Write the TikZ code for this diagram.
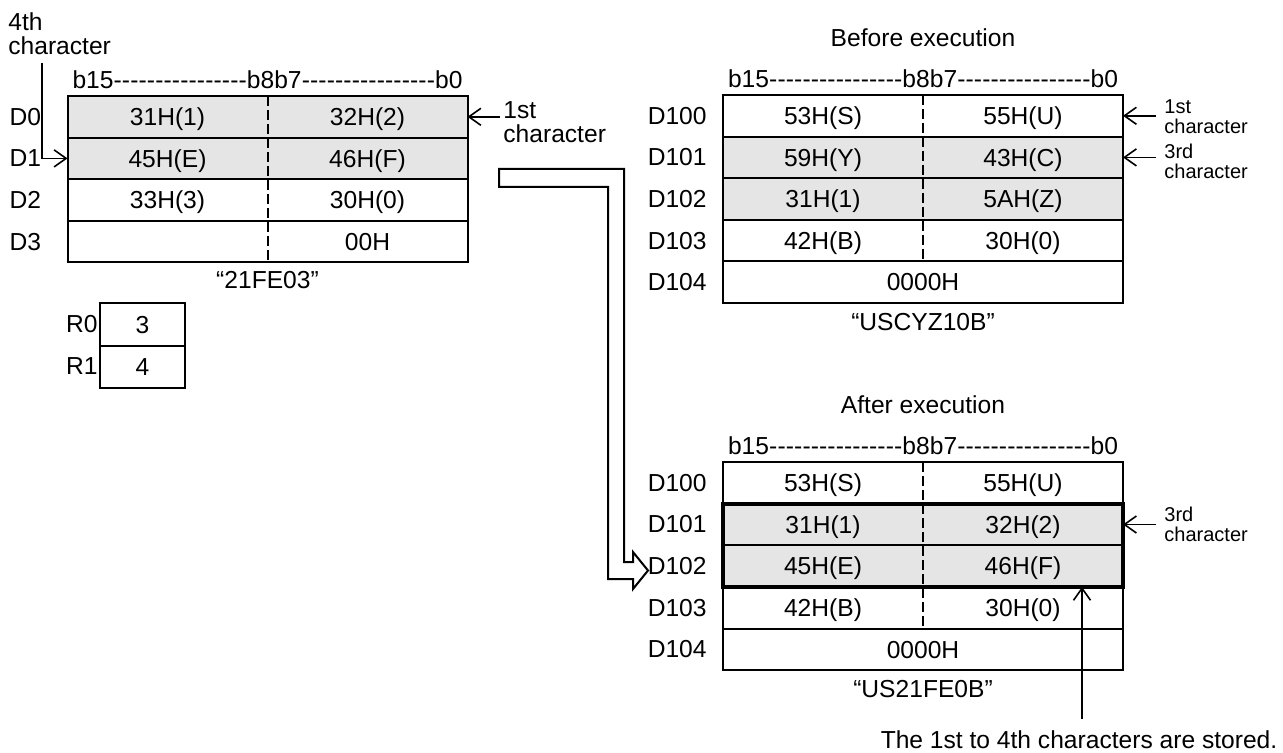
\documentclass[tikz,border=0pt]{standalone}
\usepackage{fontspec}
\setmainfont{Liberation Sans}
\usetikzlibrary{arrows.meta,calc,positioning}

\newcommand{\cellpair}[2]{\makebox[100pt]{#1}\makebox[100pt]{#2}}
\newcommand{\bitline}{\hbox to 195pt{b15\xleaders\hbox{-}\hfill b8b7\xleaders\hbox{-}\hfill b0}}

\begin{document}
\begin{tikzpicture}[
  x=0.5pt, y=-0.5pt,
  font=\fontsize{12.3}{12.3}\selectfont,
  row/.style={draw, line width=1pt, minimum width=200pt, minimum height=20.8pt, inner sep=0pt, outer sep=0pt,
    text height=8.8pt, text depth=0pt},
  shaded/.style={fill=gray!20},
  reg/.style={inner sep=0pt},
  side/.style={align=left, anchor=north west, inner sep=0pt, inner xsep=4pt, font=\fontsize{10}{10}\selectfont},
  arr/.style={-{Straight Barb[length=6pt,width=8.5pt]}, line width=0.8pt},
  divider/.style={dash pattern=on 5pt off 2pt, line width=1pt},
  hilite/.style={line width=2.2pt},
]
\useasboundingbox (0,0) rectangle (1283,753);

%% ---- Source data D0-D3 ----
\node[row, shaded] (d0) at (267.5,116.8) {\cellpair{31H(1)}{32H(2)}};
\node[row, shaded, below=0pt of d0] (d1) {\cellpair{45H(E)}{46H(F)}};
\node[row, below=0pt of d1] (d2) {\cellpair{33H(3)}{30H(0)}};
\node[row, below=0pt of d2] (d3) {\cellpair{}{00H}};
\draw[divider] (d0.north) -- (d3.south);

\node[reg, left=13pt of d0] (d0l) {D0};
\node[reg, left=13pt of d1] (d1l) {D1};
\node[reg, left=13pt of d2] (d2l) {D2};
\node[reg, left=13pt of d3] (d3l) {D3};
\node[reg, above=3.5pt of d0] (dbits) {\bitline};
\node[reg, below=4.5pt of d3] (dcap) {“21FE03”};

\node[reg, align=left, anchor=north west] (c4) at (8,12) {4th\\character};
\coordinate (c4s) at (42,63);
\draw[arr] (c4s) |- (d1.west);
\node[reg, align=left, anchor=north west, inner xsep=1.5pt] (c1) at (500,101) {1st\\character};
\draw[arr] (c1.west |- d0.east) -- (d0.east);

%% ---- R0 / R1 ----
\node[row, minimum width=42.5pt, minimum height=21pt] (r0) at (142.5,324.5) {3};
\node[row, minimum width=42.5pt, minimum height=21pt, below=0pt of r0] (r1) {4};
\node[reg, left=1pt of r0] (r0l) {R0};
\node[reg, left=1pt of r1] (r1l) {R1};

%% ---- Before execution ----
\node[row] (t100) at (923,115.8) {\cellpair{53H(S)}{55H(U)}};
\node[row, shaded, below=0pt of t100] (t101) {\cellpair{59H(Y)}{43H(C)}};
\node[row, shaded, below=0pt of t101] (t102) {\cellpair{31H(1)}{5AH(Z)}};
\node[row, below=0pt of t102] (t103) {\cellpair{42H(B)}{30H(0)}};
\node[row, below=0pt of t103] (t104) {0000H};
\draw[divider] (t100.north) -- (t103.south);

\node[reg, left=8pt of t100] (t100l) {D100};
\node[reg, left=8pt of t101] (t101l) {D101};
\node[reg, left=8pt of t102] (t102l) {D102};
\node[reg, left=8pt of t103] (t103l) {D103};
\node[reg, left=8pt of t104] (t104l) {D104};
\node[reg, above=3.5pt of t100] (tbits) {\bitline};
\node[reg, above=11pt of tbits] (ttitle) {Before execution};
\node[reg, below=5pt of t104] (tcap) {“USCYZ10B”};

\node[side] (s1) at (1156,99) {1st\\character};
\draw[arr] (s1.west |- t100.east) -- (t100.east);
\node[side] (s3) at (1156,144) {3rd\\character};
\draw[arr] (s3.west |- t101.east) -- (t101.east);

%% ---- After execution ----
\node[row] (a100) at (923,482.9) {\cellpair{53H(S)}{55H(U)}};
\node[row, shaded, below=0pt of a100] (a101) {\cellpair{31H(1)}{32H(2)}};
\node[row, shaded, below=0pt of a101] (a102) {\cellpair{45H(E)}{46H(F)}};
\node[row, below=0pt of a102] (a103) {\cellpair{42H(B)}{30H(0)}};
\node[row, below=0pt of a103] (a104) {0000H};
\draw[divider] (a100.north) -- (a103.south);
\draw[hilite] (a101.north west) rectangle (a102.south east);

\node[reg, left=8pt of a100] (a100l) {D100};
\node[reg, left=8pt of a101] (a101l) {D101};
\node[reg, left=8pt of a102] (a102l) {D102};
\node[reg, left=8pt of a103] (a103l) {D103};
\node[reg, left=8pt of a104] (a104l) {D104};
\node[reg, above=3.5pt of a100] (abits) {\bitline};
\node[reg, above=11pt of abits] (atitle) {After execution};
\node[reg, below=5pt of a104] (acap) {“US21FE0B”};

\node[side] (s3b) at (1156,507) {3rd\\character};
\draw[arr] (s3b.west |- a101.east) -- (a101.east);

\node[reg] (note) at (1079,740) {The 1st to 4th characters are stored.};
\coordinate (st) at (1082,719);
\draw[arr] (st) -- (st |- a102.south);

%% ---- hollow transfer arrow ----
\draw[line width=1pt] (499,169) -- (624,169) -- (624,562) -- (633,562) -- (633,552)
  -- (648,570.5) -- (633,589) -- (633,579) -- (608,579) -- (608,187) -- (499,187) -- cycle;

\end{tikzpicture}
\end{document}
